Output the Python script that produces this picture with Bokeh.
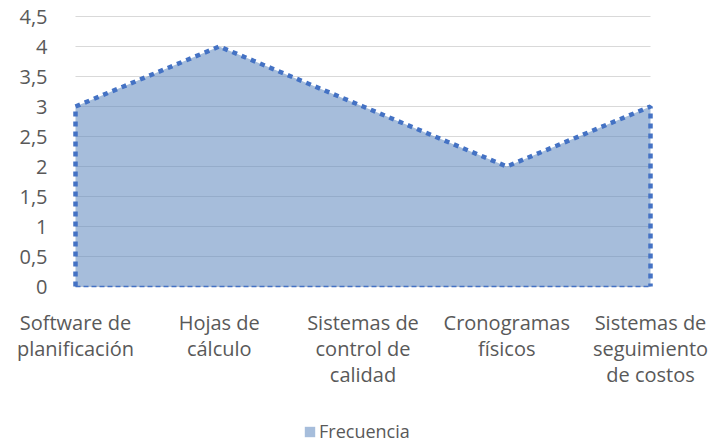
from bokeh.plotting import figure
from bokeh.models import FixedTicker, Legend, LegendItem, Range1d
from bokeh.embed import file_html
from bokeh.resources import INLINE

categories = ["Software de\nplanificación", "Hojas de\ncálculo", "Sistemas de\ncontrol de\ncalidad",
              "Cronogramas\nfísicos", "Sistemas de\nseguimiento\nde costos"]
values = [3, 4, 3, 2, 3]
series_name = "Frecuencia"
y_ticks = [0, 0.5, 1, 1.5, 2, 2.5, 3, 3.5, 4, 4.5]
y_tick_labels = ["0", "0,5", "1", "1,5", "2", "2,5", "3", "3,5", "4", "4,5"]

FONT = "Open Sans"
TXT = "#595959"

# page layout (pixels): whole canvas is the frame; data area sits inside it
W, H = 713, 443
LEFT, RIGHT, TOP, BOTTOM = 75, 650, 16, 286

idx = list(range(len(categories)))
px_x = (RIGHT - LEFT) / (idx[-1] - idx[0])
px_y = (BOTTOM - TOP) / (y_ticks[-1] - y_ticks[0])
x_start = idx[0] - LEFT / px_x
x_end = idx[-1] + (W - RIGHT) / px_x
y_end = y_ticks[-1] + TOP / px_y
y_start = y_ticks[0] - (H - BOTTOM) / px_y

xs = [idx[0]] + idx + [idx[-1]]
ys = [0] + values + [0]

p = figure(output_backend="svg", toolbar_location=None,
           frame_width=W, frame_height=H,
           x_range=Range1d(x_start, x_end), y_range=Range1d(y_start, y_end),
           min_border=0, min_border_left=0, min_border_right=0, min_border_top=0, min_border_bottom=0)
p.outline_line_color = None
p.background_fill_color = "white"
p.border_fill_color = "white"

# horizontal gridlines limited to the plot area
n = len(y_ticks)
p.segment(x0=[idx[0]] * n, x1=[idx[-1]] * n, y0=y_ticks, y1=y_ticks,
          line_color="#D9D9D9", line_width=1)

area = p.patch(xs, ys, fill_color=(93, 135, 190), fill_alpha=0.55, line_color=None)
p.line(xs, ys, line_color="#4472C4", line_width=4.5, line_dash="5 5", line_cap="butt")
p.line([idx[0], idx[-1]], [0, 0], line_color="#4472C4", line_width=1.5, line_dash="5 3")

p.xgrid.visible = False
p.ygrid.visible = False

p.yaxis.fixed_location = idx[0]
p.yaxis.ticker = FixedTicker(ticks=y_ticks)
p.yaxis.major_label_overrides = {t: l for t, l in zip(y_ticks, y_tick_labels)}
p.yaxis.axis_line_color = None
p.yaxis.major_tick_line_color = None
p.yaxis.minor_tick_line_color = None
p.yaxis.major_label_text_font = FONT
p.yaxis.major_label_text_font_size = "20px"
p.yaxis.major_label_text_color = TXT
p.yaxis.major_label_standoff = 22

p.xaxis.fixed_location = 0
p.xaxis.ticker = FixedTicker(ticks=idx)
p.xaxis.major_label_overrides = {i: c for i, c in enumerate(categories)}
p.xaxis.axis_line_color = None
p.xaxis.major_tick_line_color = None
p.xaxis.minor_tick_line_color = None
p.xaxis.major_label_text_font = FONT
p.xaxis.major_label_text_font_size = "20px"
p.xaxis.major_label_text_line_height = 0.97
p.xaxis.major_label_text_color = TXT
p.xaxis.major_label_standoff = 16

legend = Legend(items=[LegendItem(label=series_name, renderers=[area])],
                location=(303, 0), orientation="horizontal",
                label_text_font=FONT, label_text_font_size="18px", label_text_color=TXT,
                border_line_color=None, background_fill_alpha=0,
                glyph_width=13, glyph_height=13, label_standoff=3, padding=2, margin=0)
p.add_layout(legend, "center")

open("out.html", "w").write(file_html(p, INLINE))
